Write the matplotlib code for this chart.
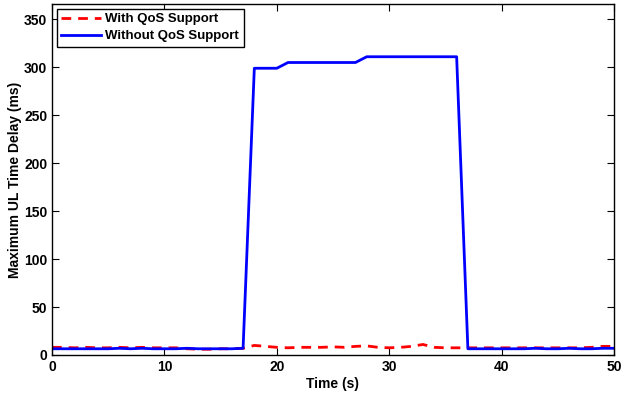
import matplotlib
matplotlib.use("Agg")
import matplotlib.pyplot as plt
import numpy as np

time_s = list(range(0, 51))
with_qos = [8, 8, 7.5, 8, 7.5, 7.5, 8, 7.5, 8, 7.5, 7.5, 7.5, 6.5, 6, 6, 6.5, 6.5, 7,
            10, 9, 8, 7.5, 8, 8, 8, 8.5, 8, 9, 9.5, 8, 7.5, 8, 9, 11, 8, 7.5, 7.5,
            7.5, 7.5, 7.5, 7.5, 7.5, 7.5, 7.5, 7.5, 7.5, 7.5, 7.5, 8, 9, 9]
without_qos = [6.5, 6.5, 6.5, 6.5, 6.5, 6.5, 7, 6.5, 7, 6.5, 6.5, 6.5, 7, 6.5, 6.5, 6.5, 6.5, 7,
               299, 299, 299, 305, 305, 305, 305, 305, 305, 305, 311, 311, 311, 311, 311, 311, 311, 311, 311,
               6.5, 6.5, 6.5, 6.5, 6.5, 6.5, 7, 6.5, 6.5, 7, 6.5, 6.5, 7, 7]
x_ticks = [0, 10, 20, 30, 40, 50]
y_ticks = [0, 50, 100, 150, 200, 250, 300, 350]

plt.rcParams['font.family'] = ['Liberation Sans', 'DejaVu Sans']
plt.rcParams['font.weight'] = 'bold'

fig = plt.figure(figsize=(6.21, 3.96), dpi=100)
ax = fig.add_axes([52/621, 1-355/396, (614-52)/621, (355-4)/396])
ax.plot(time_s, with_qos, color='#ff0000', linestyle='--', linewidth=2, dashes=(3.5, 2.5), label='With QoS Support')
ax.plot(time_s, without_qos, color='#0000ff', linewidth=2, label='Without QoS Support')
ax.set_xlim(0, 50)
ax.set_ylim(0, 366)
ax.set_xticks(x_ticks)
ax.set_yticks(y_ticks)
ax.tick_params(direction='in', top=True, right=True, labelsize=10, length=5, width=0.8)
for lab in ax.get_xticklabels() + ax.get_yticklabels():
    lab.set_fontweight('bold')
ax.set_xlabel('Time (s)', fontsize=10, fontweight='bold', labelpad=2)
ax.set_ylabel('Maximum UL Time Delay (ms)', fontsize=10, fontweight='bold', labelpad=1)
leg = ax.legend(loc='upper left', fontsize=9.5, fancybox=False, framealpha=1,
                edgecolor='black', borderaxespad=0.35, handlelength=3, borderpad=0.35,
                labelspacing=0.35, handletextpad=0.35)
leg.get_frame().set_linewidth(1)
for t in leg.get_texts():
    t.set_fontweight('bold')
for s in ax.spines.values():
    s.set_linewidth(1)
fig.savefig('out.png', dpi=100)
